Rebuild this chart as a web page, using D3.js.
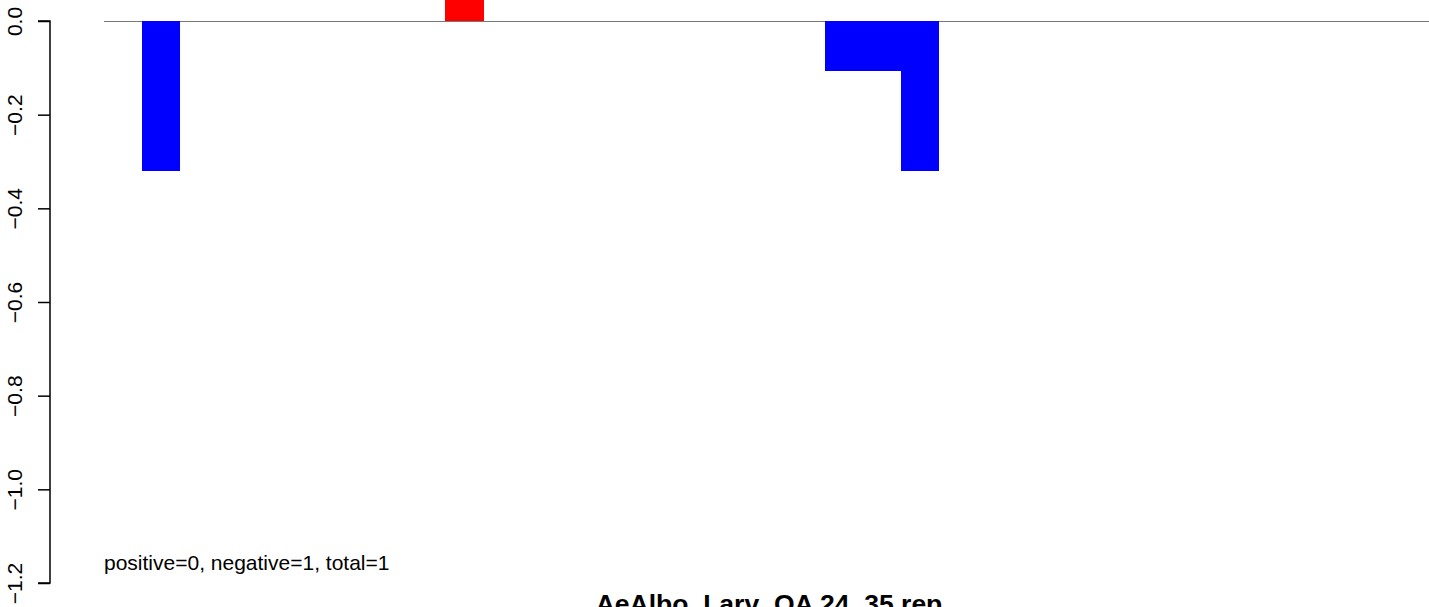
<!DOCTYPE html>
<html><head><meta charset="utf-8">
<script src="https://cdn.jsdelivr.net/npm/d3@7"></script>
<style>body{margin:0;background:#fff}svg{display:block;font-family:"Liberation Sans",Arial,sans-serif}</style>
</head><body><svg id="c" width="1429" height="607"></svg>
<script>
const categories = d3.range(35).map(i => "c" + i);
const values = [0,-0.32,0,0,0,0,0,0,0,0.32,0,0,0,0,0,0,0,0,0,-0.107,-0.107,-0.32,0,0,0,0,0,0,0,0,0,0,0,0,0];
const yTicks = [0.0,-0.2,-0.4,-0.6,-0.8,-1.0,-1.2];
const title = "AeAlbo_Larv_OA 24_35 rep";
const note = "positive=0, negative=1, total=1";

const svg = d3.select("#c");
const x = d3.scaleBand().domain(categories).range([104, 104 + 35*37.93]).padding(0);
const y = d3.scaleLinear().domain([-1.2, 0]).range([583, 21]);

svg.append("line").attr("x1",104).attr("x2",1429).attr("y1",y(0)+0.5).attr("y2",y(0)+0.5)
  .attr("stroke","#777").attr("stroke-width",1);

svg.selectAll("rect.bar").data(values.map((v,i)=>({v,c:categories[i]})).filter(d=>d.v!==0))
  .enter().append("rect")
  .attr("shape-rendering","crispEdges")
  .attr("x",d=>x(d.c)).attr("width",x.bandwidth()+0.5)
  .attr("y",d=>y(Math.max(0,d.v))).attr("height",d=>Math.abs(y(d.v)-y(0)))
  .attr("fill",d=>d.v<0?"#0000ff":"#ff0000");

const ax = svg.append("g").attr("transform","translate(50,0)")
  .call(d3.axisLeft(y).tickValues(yTicks).tickSize(12).tickFormat(d3.format(".1f")));
ax.select(".domain").attr("stroke","#000").attr("stroke-width",1.5).attr("d",`M-12,${y(0)}H0V${y(-1.2)}H-12`);
ax.selectAll(".tick line").attr("stroke","#000").attr("stroke-width",1.5);
ax.selectAll(".tick text").attr("font-size",21).attr("fill","#000")
  .attr("x",0).attr("y",0).attr("dy",0)
  .attr("text-anchor","middle")
  .attr("transform","translate(-28,0) rotate(-90)")
  .text(d=>d3.format(".1f")(d).replace("-","\u2212"));

svg.append("text").attr("x",104).attr("y",570).attr("font-size",21).attr("fill","#000").text(note);
svg.append("text").attr("x",769).attr("y",613).attr("font-size",26.5).attr("font-weight","bold")
  .attr("text-anchor","middle").attr("fill","#000").text(title);
</script></body></html>
